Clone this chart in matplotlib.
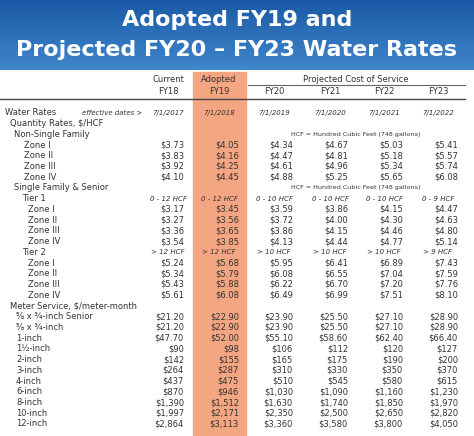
import numpy as np
import matplotlib.pyplot as plt

# column headers
col_top = ["Current", "Adopted", "", "", "", ""]
col_fy = ["FY18", "FY19", "FY20", "FY21", "FY22", "FY23"]
eff_dates = ["7/1/2017", "7/1/2018", "7/1/2019", "7/1/2020", "7/1/2021", "7/1/2022"]

zones = ["Zone I", "Zone II", "Zone III", "Zone IV"]
non_single = [
    ["$3.73", "$4.05", "$4.34", "$4.67", "$5.03", "$5.41"],
    ["$3.83", "$4.16", "$4.47", "$4.81", "$5.18", "$5.57"],
    ["$3.92", "$4.25", "$4.61", "$4.96", "$5.34", "$5.74"],
    ["$4.10", "$4.45", "$4.88", "$5.25", "$5.65", "$6.08"],
]
tier1_range = ["0 - 12 HCF", "0 - 12 HCF", "0 - 10 HCF", "0 - 10 HCF", "0 - 10 HCF", "0 - 9 HCF"]
tier1 = [
    ["$3.17", "$3.45", "$3.59", "$3.86", "$4.15", "$4.47"],
    ["$3.27", "$3.56", "$3.72", "$4.00", "$4.30", "$4.63"],
    ["$3.36", "$3.65", "$3.86", "$4.15", "$4.46", "$4.80"],
    ["$3.54", "$3.85", "$4.13", "$4.44", "$4.77", "$5.14"],
]
tier2_range = ["> 12 HCF", "> 12 HCF", "> 10 HCF", "> 10 HCF", "> 10 HCF", "> 9 HCF"]
tier2 = [
    ["$5.24", "$5.68", "$5.95", "$6.41", "$6.89", "$7.43"],
    ["$5.34", "$5.79", "$6.08", "$6.55", "$7.04", "$7.59"],
    ["$5.43", "$5.88", "$6.22", "$6.70", "$7.20", "$7.76"],
    ["$5.61", "$6.08", "$6.49", "$6.99", "$7.51", "$8.10"],
]
meters = ["⅝ x ¾-inch Senior", "⅝ x ¾-inch", "1-inch", "1½-inch", "2-inch", "3-inch",
          "4-inch", "6-inch", "8-inch", "10-inch", "12-inch"]
meter_vals = [
    ["$21.20", "$22.90", "$23.90", "$25.50", "$27.10", "$28.90"],
    ["$21.20", "$22.90", "$23.90", "$25.50", "$27.10", "$28.90"],
    ["$47.70", "$52.00", "$55.10", "$58.60", "$62.40", "$66.40"],
    ["$90", "$98", "$106", "$112", "$120", "$127"],
    ["$142", "$155", "$165", "$175", "$190", "$200"],
    ["$264", "$287", "$310", "$330", "$350", "$370"],
    ["$437", "$475", "$510", "$545", "$580", "$615"],
    ["$870", "$946", "$1,030", "$1,090", "$1,160", "$1,230"],
    ["$1,390", "$1,512", "$1,630", "$1,740", "$1,850", "$1,970"],
    ["$1,997", "$2,171", "$2,350", "$2,500", "$2,650", "$2,820"],
    ["$2,864", "$3,113", "$3,360", "$3,580", "$3,800", "$4,050"],
]

fig = plt.figure(figsize=(4.74, 4.36), dpi=100)
ax = fig.add_axes([0, 0, 1, 1])
ax.set_xlim(0, 474)
ax.set_ylim(436, 0)
ax.axis('off')

# title banner with vertical gradient
grad = np.linspace(0, 1, 100).reshape(-1, 1)
ax.imshow(grad, extent=(0, 474, 70, 0), cmap=plt.matplotlib.colors.LinearSegmentedColormap.from_list(
    'b', ['#1b5aa6', '#3f86cc']), aspect='auto', zorder=0)
ax.text(237, 20, "Adopted FY19 and", color='white', fontsize=16, fontweight='bold',
        ha='center', va='center')
ax.text(237, 50, "Projected FY20 – FY23 Water Rates", color='white', fontsize=16,
        fontweight='bold', ha='center', va='center')

# highlighted FY19 column
ax.add_patch(plt.Rectangle((193, 72), 53, 364, color='#f4a582', zorder=0))

val_right = [184, 239, 293, 348, 403, 458]
centers = [168, 219, 274, 330, 384, 438]
fs = 6.0
ifs = 5.0
tc = '#333333'

for i in range(6):
    if col_top[i]:
        ax.text(centers[i], 80, col_top[i], fontsize=fs, ha='center', va='center', color=tc)
    ax.text(centers[i], 92, col_fy[i], fontsize=fs, ha='center', va='center', color=tc)
ax.text(356, 80, "Projected Cost of Service", fontsize=fs, ha='center', va='center', color=tc)
ax.plot([248, 465], [85, 85], color='#666666', lw=0.8)
ax.plot([0, 465], [99, 99], color='#444444', lw=1.0)

step = 10.73
def row_y(r):
    return 145 + step * (r - 3)

def label(r, text, x):
    ax.text(x, row_y(r), text, fontsize=fs, ha='left', va='center', color=tc)

def values(r, vals, italic=False):
    for i, v in enumerate(vals):
        if italic:
            ax.text(centers[i], row_y(r), v, fontsize=ifs, ha='center', va='center',
                    color=tc, style='italic')
        else:
            ax.text(val_right[i], row_y(r), v, fontsize=fs, ha='right', va='center', color=tc)

label(0, "Water Rates", 5)
ax.text(82, row_y(0), "effective dates >", fontsize=ifs, style='italic', va='center', color=tc)
values(0, eff_dates, italic=True)
label(1, "Quantity Rates, $/HCF", 10)
label(2, "Non-Single Family", 14)
ax.text(356, row_y(2), "HCF = Hundred Cubic Feet (748 gallons)", fontsize=4.6, ha='center',
        va='center', color=tc)
r = 3
for z, v in zip(zones, non_single):
    label(r, z, 24)
    values(r, v)
    r += 1
label(r, "Single Family & Senior", 14)
ax.text(356, row_y(r), "HCF = Hundred Cubic Feet (748 gallons)", fontsize=4.6, ha='center',
        va='center', color=tc)
r += 1
label(r, "Tier 1", 22)
values(r, tier1_range, italic=True)
r += 1
for z, v in zip(zones, tier1):
    label(r, z, 28)
    values(r, v)
    r += 1
label(r, "Tier 2", 22)
values(r, tier2_range, italic=True)
r += 1
for z, v in zip(zones, tier2):
    label(r, z, 28)
    values(r, v)
    r += 1
label(r, "Meter Service, $/meter-month", 10)
r += 1
for m, v in zip(meters, meter_vals):
    label(r, m, 16)
    values(r, v)
    r += 1

fig.savefig("out.png", dpi=100)
